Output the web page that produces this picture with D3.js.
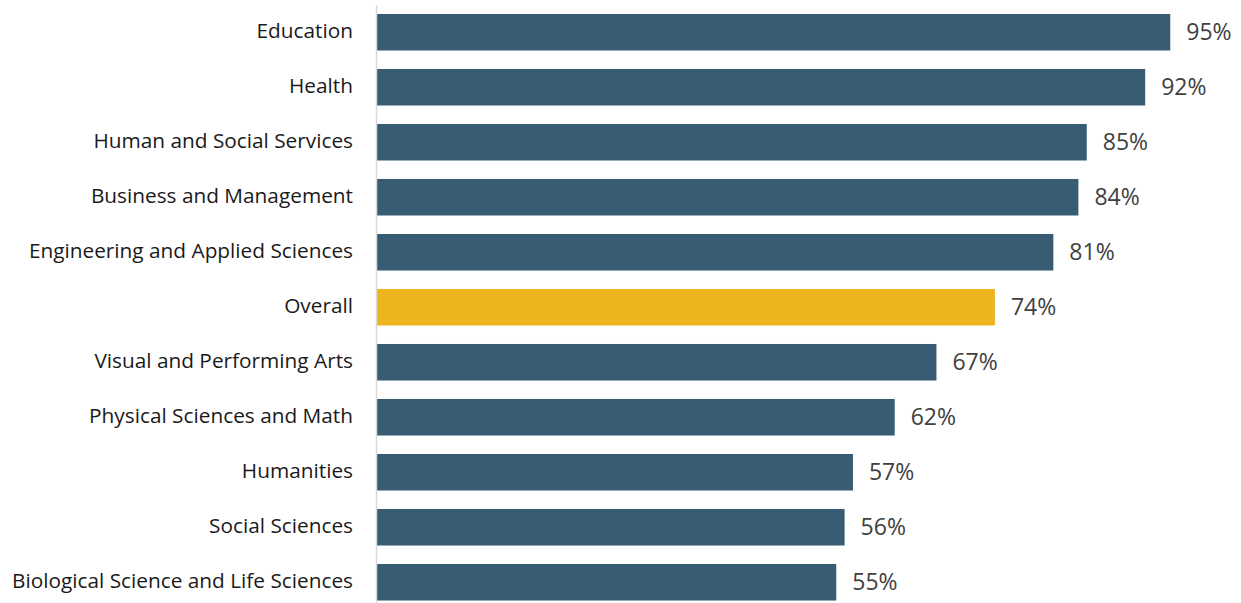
<!DOCTYPE html>
<html><head><meta charset="utf-8">
<script src="https://cdn.jsdelivr.net/npm/d3@7"></script>
<style>body{margin:0;background:#fff}svg{display:block}</style>
</head><body>
<svg id="chart" width="1241" height="603"></svg>
<script>
const categories = ["Education","Health","Human and Social Services","Business and Management","Engineering and Applied Sciences","Overall","Visual and Performing Arts","Physical Sciences and Math","Humanities","Social Sciences","Biological Science and Life Sciences"];
const values = [95,92,85,84,81,74,67,62,57,56,55];
const highlight = "Overall";

const svg = d3.select("#chart");
const x = d3.scaleLinear().domain([0,100]).range([377,1212]);
const y = d3.scaleBand().domain(categories).range([-4.5,619]).paddingInner(0.336).paddingOuter(0.336);
const data = categories.map((c,i)=>({c, v: values[i]}));

svg.selectAll("rect.bar").data(data).join("rect")
  .attr("class","bar")
  .attr("x", x(0))
  .attr("y", d=>y(d.c))
  .attr("width", d=>x(d.v)-x(0))
  .attr("height", y.bandwidth())
  .attr("fill", d=>d.c===highlight?"#ecb51f":"#375c74");

svg.append("line").attr("x1",376.5).attr("x2",376.5).attr("y1",5).attr("y2",603)
  .attr("stroke","#d9d9d9").attr("stroke-width",1.5);

svg.selectAll("text.cat").data(data).join("text")
  .attr("class","cat")
  .attr("x", 353)
  .attr("y", d=>y(d.c)+y.bandwidth()/2)
  .attr("dy","0.3em")
  .attr("text-anchor","end")
  .attr("font-family","Open Sans")
  .attr("font-size","20.8px")
  .attr("fill","#1a1a1a")
  .text(d=>d.c);

svg.selectAll("text.val").data(data).join("text")
  .attr("class","val")
  .attr("x", d=>x(d.v)+16)
  .attr("y", d=>y(d.c)+y.bandwidth()/2)
  .attr("dy","0.32em")
  .attr("font-family","Open Sans")
  .attr("font-size","23px")
  .attr("fill","#404040")
  .text(d=>d.v+"%");
</script>
</body></html>
